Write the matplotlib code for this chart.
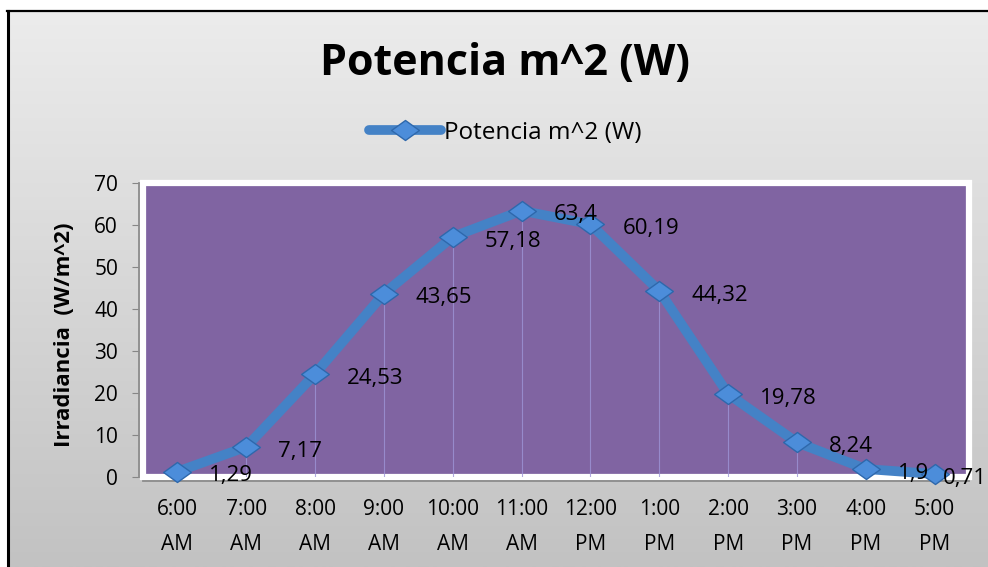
import numpy as np
import matplotlib.pyplot as plt
from matplotlib.path import Path

# data
horas = ['6:00', '7:00', '8:00', '9:00', '10:00', '11:00',
         '12:00', '1:00', '2:00', '3:00', '4:00', '5:00']
periodo = ['AM', 'AM', 'AM', 'AM', 'AM', 'AM', 'PM', 'PM', 'PM', 'PM', 'PM', 'PM']
potencia = [1.29, 7.17, 24.53, 43.65, 57.18, 63.4, 60.19, 44.32, 19.78, 8.24, 1.9, 0.71]
etiquetas = ['1,29', '7,17', '24,53', '43,65', '57,18', '63,4', '60,19',
             '44,32', '19,78', '8,24', '1,9', '0,71']
titulo = 'Potencia m^2 (W)'

plt.rcParams['font.family'] = ['Open Sans', 'DejaVu Sans']

W, H = 988, 567
fig = plt.figure(figsize=(W / 100, H / 100), dpi=100)
fig.patch.set_facecolor('white')

### gray gradient background with black frame (top/left)
bg = fig.add_axes([8 / W, 0, 1 - 8 / W, 1 - 11 / H], zorder=-5)
grad = np.linspace(0, 1, 256).reshape(-1, 1)
bg.imshow(grad, aspect='auto', cmap=plt.matplotlib.colors.LinearSegmentedColormap.from_list(
    'g', ['#ececec', '#c2c2c2']), extent=[0, 1, 0, 1], origin='upper')
bg.set_xlim(0, 1)
bg.set_ylim(0, 1)
bg.set_axis_off()
fig.add_artist(plt.Line2D([8 / W, 8 / W], [0, 1 - 10.5 / H], color='black', lw=2.2))
fig.add_artist(plt.Line2D([7 / W, 1], [1 - 10.5 / H, 1 - 10.5 / H], color='black', lw=1.6))

### plot area
ax = fig.add_axes([143 / W, 90 / H, 826 / W, 294 / H])
ax.set_facecolor('#8064A2')
ax.patch.set_edgecolor('white')
ax.patch.set_linewidth(4.5)

x = np.arange(len(horas))
ax.vlines(x, 0, potencia, color='#9d94d6', lw=0.8, alpha=0.8, zorder=1)

diamond = Path([(-1, 0), (0, 0.72), (1, 0), (0, -0.72), (-1, 0)],
               [Path.MOVETO, Path.LINETO, Path.LINETO, Path.LINETO, Path.CLOSEPOLY])
ax.plot(x, potencia, color='#4482C6', lw=7, solid_capstyle='round', zorder=3,
        marker=diamond, markersize=20, markerfacecolor='#4C8DDA',
        markeredgecolor='#2E68AC', markeredgewidth=1.0, label=titulo, clip_on=False)

for i, (xi, yi) in enumerate(zip(x, potencia)):
    dx = 6 if i == len(x) - 1 else 23
    ax.annotate(etiquetas[i], (xi, yi), xytext=(dx, -3), textcoords='offset points',
                ha='left', va='center', fontsize=16, color='black', zorder=5,
                annotation_clip=False)

ax.set_xlim(-0.5, len(horas) - 0.5)
ax.set_ylim(0, 70)
ax.set_yticks(range(0, 71, 10))
# two-line category labels: hour on major ticks, AM/PM on minor ticks
ax.xaxis.remove_overlapping_locs = False
ax.set_xticks(x, horas)
ax.set_xticks(x, periodo, minor=True)
ax.tick_params(axis='y', labelsize=15, length=5, color='#868686', pad=10)
ax.tick_params(axis='x', which='major', labelsize=15, length=0, pad=13)
ax.tick_params(axis='x', which='minor', labelsize=15, length=0, pad=38)

for s in ['top', 'right']:
    ax.spines[s].set_visible(False)
for s in ['left', 'bottom']:
    ax.spines[s].set_color('#8c8c8c')
    ax.spines[s].set_linewidth(1.3)
    ax.spines[s].set_position(('outward', 3))

fig.text(65 / W, 1 - 335 / H, 'Irradiancia  (W/m^2)', rotation=90, ha='center',
         va='center', fontsize=16, fontweight='bold')
fig.text(505 / W, 1 - 64 / H, titulo, ha='center', va='center', fontsize=31,
         fontweight='bold')
fig.legend(loc='center', bbox_to_anchor=(505 / W, 1 - 133 / H), frameon=False,
           fontsize=17.5, handlelength=3.0, handletextpad=0.1)

fig.savefig('out.png', dpi=100)
